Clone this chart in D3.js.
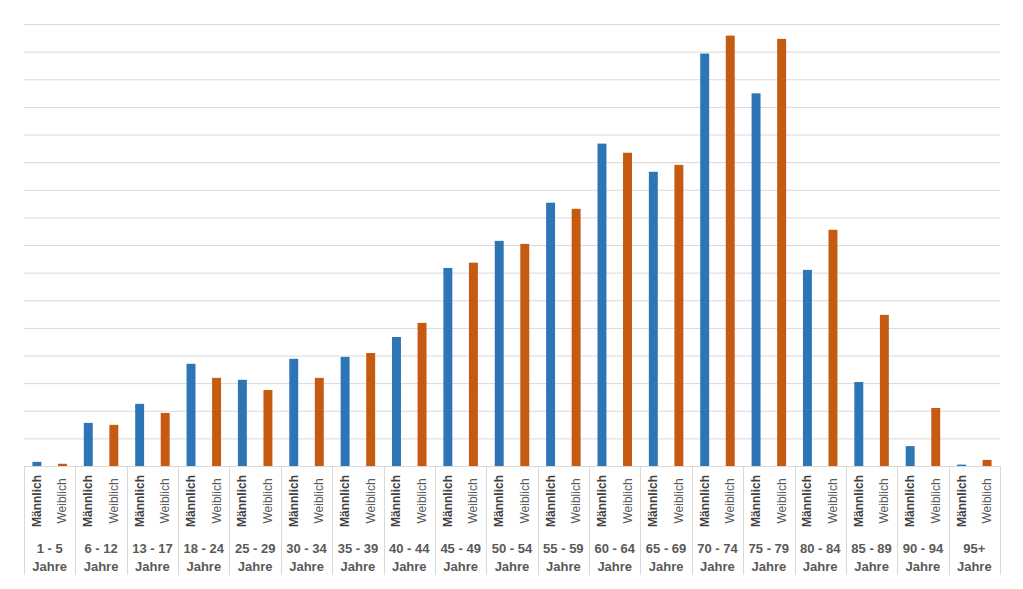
<!DOCTYPE html>
<html>
<head>
<meta charset="utf-8">
<script src="https://cdn.jsdelivr.net/npm/d3@7"></script>
<style>
  body { margin: 0; background: #fff; }
  svg { display: block; font-family: "Liberation Sans", Arial, sans-serif; }
</style>
</head>
<body>
<svg width="1023" height="589"></svg>
<script>
// age groups, two lines each
var ageGroups = ["1 - 5", "6 - 12", "13 - 17", "18 - 24", "25 - 29", "30 - 34", "35 - 39", "40 - 44",
  "45 - 49", "50 - 54", "55 - 59", "60 - 64", "65 - 69", "70 - 74", "75 - 79", "80 - 84",
  "85 - 89", "90 - 94", "95+"];
var seriesLabels = ["Männlich", "Weiblich"];
// values in gridline units (no y labels in the original)
var maleValues = [0.15, 1.56, 2.25, 3.7, 3.12, 3.88, 3.95, 4.67, 7.17, 8.15, 9.53, 11.67, 10.65, 14.93, 13.49, 7.1, 3.04, 0.72, 0.05];
var femaleValues = [0.08, 1.49, 1.92, 3.19, 2.75, 3.19, 4.09, 5.18, 7.36, 8.04, 9.31, 11.34, 10.9, 15.58, 15.46, 8.55, 5.47, 2.1, 0.22];
var yMax = 16;

var colors = { "Männlich": "#2E75B6", "Weiblich": "#C55A11" };

var svg = d3.select("svg");
var plotLeft = 24, plotRight = 1000, plotTop = 24, base = 466, plotBottom = 575;

var x = d3.scaleBand().domain(ageGroups).range([plotLeft, plotRight]).padding(0);
var xInner = d3.scaleBand().domain(seriesLabels).range([0, x.bandwidth()])
  .paddingInner(0.65).paddingOuter(0.33);
var y = d3.scaleLinear().domain([0, yMax]).range([base, plotTop]);

// gridlines
svg.append("g")
  .attr("transform", "translate(" + plotLeft + ",0)")
  .call(d3.axisLeft(y).tickValues(d3.range(1, yMax + 1)).tickSize(-(plotRight - plotLeft)).tickFormat(""))
  .call(function(g) { g.select(".domain").remove(); })
  .selectAll("line").attr("stroke", "#D9D9D9");

// table rows
var rows = ageGroups.map(function(g, i) {
  return { group: g, values: [
    { key: "Männlich", value: maleValues[i] },
    { key: "Weiblich", value: femaleValues[i] }
  ]};
});

var groups = svg.append("g").selectAll("g")
  .data(rows)
  .enter().append("g")
  .attr("transform", function(d) { return "translate(" + x(d.group) + ",0)"; });

groups.selectAll("rect")
  .data(function(d) { return d.values; })
  .enter().append("rect")
  .attr("x", function(d) { return xInner(d.key); })
  .attr("width", xInner.bandwidth())
  .attr("y", function(d) { return y(d.value); })
  .attr("height", function(d) { return base - y(d.value); })
  .attr("fill", function(d) { return colors[d.key]; });

// baseline
svg.append("line")
  .attr("x1", plotLeft).attr("x2", plotRight).attr("y1", base + 0.5).attr("y2", base + 0.5)
  .attr("stroke", "#D9D9D9");

// separators
var bounds = ageGroups.map(function(g) { return x(g); }).concat([plotRight]);
svg.append("g").selectAll("line")
  .data(bounds)
  .enter().append("line")
  .attr("x1", function(d) { return Math.round(d) + 0.5; })
  .attr("x2", function(d) { return Math.round(d) + 0.5; })
  .attr("y1", base).attr("y2", plotBottom)
  .attr("stroke", "#D9D9D9");

// series labels, rotated
groups.selectAll("text.series")
  .data(function(d) { return d.values; })
  .enter().append("text")
  .attr("class", "series")
  .attr("transform", function(d) {
    return "translate(" + (xInner(d.key) + xInner.bandwidth() / 2 + 4) + ",501) rotate(-90)";
  })
  .attr("text-anchor", "middle")
  .attr("font-size", 12)
  .attr("font-weight", function(d) { return d.key === "Männlich" ? "bold" : "normal"; })
  .attr("fill", function(d) { return d.key === "Männlich" ? "#404040" : "#595959"; })
  .text(function(d) { return d.key; });

// group labels
groups.append("text")
  .attr("x", x.bandwidth() / 2)
  .attr("y", 553)
  .attr("text-anchor", "middle")
  .attr("font-size", 13)
  .attr("font-weight", "bold")
  .attr("fill", "#595959")
  .text(function(d) { return d.group; });

groups.append("text")
  .attr("x", x.bandwidth() / 2)
  .attr("y", 571)
  .attr("text-anchor", "middle")
  .attr("font-size", 13)
  .attr("font-weight", "bold")
  .attr("fill", "#595959")
  .text("Jahre");
</script>
</body>
</html>
